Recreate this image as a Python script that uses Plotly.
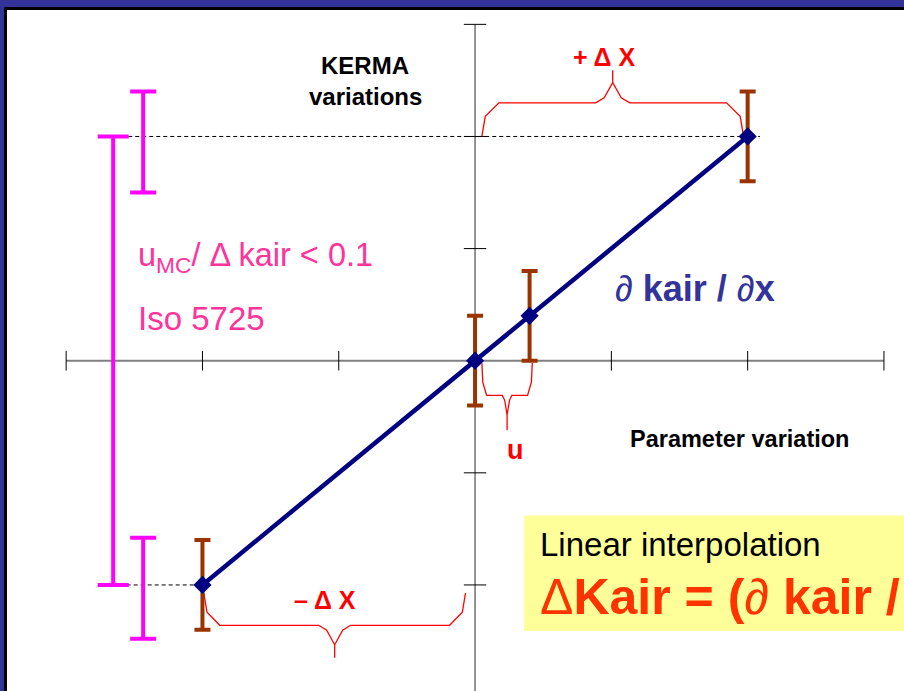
import plotly.graph_objects as go

# parameter variation (x) vs kerma variation (y), in tick units
param_x = [-2, 0, 0.4, 2]
kerma_y = [-2, 0, 0.4, 2]
kerma_err = [0.4, 0.4, 0.4, 0.4]

# ISO 5725 reference bars (magenta)
iso_long_x = [-2.655]
iso_long_y = [0]
iso_long_err = [2]
iso_short_x = [-2.435, -2.435]
iso_short_y = [2, -2]
iso_short_plus = [0.4, 0.42]
iso_short_minus = [0.5, 0.48]

x_ticks = [-3, -2, -1, 1, 2, 3]
y_ticks = [3, 2, 1, -1, -2]

NAVY = "#000080"
BROWN = "#993300"
MAGENTA = "#FF00FF"
PINK = "#FF3399"
RED = "#FF0000"
FONT = "Arial, Liberation Sans, sans-serif"


def brace(x0, x1, yb, depth, tip, c):
    # curly brace between x0 and x1, opening towards yb, tip at yb + tip
    xm = (x0 + x1) / 2
    xs = [x0, x0 + 0.2 * c, x0 + c, xm - c, xm - 0.5 * c, xm, xm,
          xm, xm + 0.5 * c, xm + c, x1 - c, x1 - 0.2 * c, x1]
    ys = [yb, yb + 0.6 * depth, yb + depth, yb + depth, yb + 1.15 * depth,
          yb + 1.6 * depth, yb + tip, yb + 1.6 * depth, yb + 1.15 * depth,
          yb + depth, yb + depth, yb + 0.6 * depth, yb]
    return go.Scatter(x=xs, y=ys, mode="lines", line=dict(color=RED, width=1.3),
                      hoverinfo="skip")


fig = go.Figure()

# axes through the origin
fig.add_trace(go.Scatter(x=[-3, 3], y=[0, 0], mode="lines",
                         line=dict(color="#808080", width=2), hoverinfo="skip"))
fig.add_trace(go.Scatter(x=[0, 0], y=[3, -3.2], mode="lines",
                         line=dict(color="#707070", width=1.5), hoverinfo="skip"))
fig.add_trace(go.Scatter(x=x_ticks, y=[0] * len(x_ticks), mode="markers",
                         marker=dict(symbol="line-ns", size=14,
                                     line=dict(color="black", width=1)),
                         hoverinfo="skip"))
fig.add_trace(go.Scatter(x=[0] * len(y_ticks), y=y_ticks, mode="markers",
                         marker=dict(symbol="line-ew", size=16,
                                     line=dict(color="black", width=1)),
                         hoverinfo="skip"))

# dashed guide lines
fig.add_trace(go.Scatter(x=[-2.75, 2.09], y=[2, 2], mode="lines",
                         line=dict(color="black", width=1, dash="4px,3px"),
                         hoverinfo="skip"))
fig.add_trace(go.Scatter(x=[-2.71, -2], y=[-2, -2], mode="lines",
                         line=dict(color="black", width=1, dash="4px,3px"),
                         hoverinfo="skip"))

# braces
fig.add_trace(brace(0.05, 1.97, 2.0, 0.30, 0.59, 0.125))
fig.add_trace(brace(-1.99, -0.07, -2.07, -0.29, -0.58, 0.117))
fig.add_trace(brace(0.05, 0.42, -0.02, -0.29, -0.60, 0.035))

# magenta ISO bars
fig.add_trace(go.Scatter(x=iso_long_x, y=iso_long_y, mode="markers",
                         marker=dict(size=1, opacity=0),
                         error_y=dict(type="data", array=iso_long_err,
                                      color=MAGENTA, thickness=4, width=15.5),
                         hoverinfo="skip"))
fig.add_trace(go.Scatter(x=iso_short_x, y=iso_short_y, mode="markers",
                         marker=dict(size=1, opacity=0),
                         error_y=dict(type="data", symmetric=False,
                                      array=iso_short_plus,
                                      arrayminus=iso_short_minus,
                                      color=MAGENTA, thickness=4, width=13),
                         hoverinfo="skip"))

# linear fit line
fig.add_trace(go.Scatter(x=[param_x[0], param_x[-1]],
                         y=[kerma_y[0], kerma_y[-1]], mode="lines",
                         line=dict(color=NAVY, width=4.5), hoverinfo="skip"))
# points with error bars
fig.add_trace(go.Scatter(x=param_x, y=kerma_y, mode="markers",
                         marker=dict(symbol="diamond", size=14, color=NAVY),
                         error_y=dict(type="data", array=kerma_err,
                                      color=BROWN, thickness=4, width=8)))

ann = [
    dict(x=-0.807, y=2.63, text="<b>KERMA</b>", font=dict(size=24, color="black")),
    dict(x=-0.807, y=2.36, text="<b>variations</b>", font=dict(size=24, color="black")),
    dict(x=0.946, y=2.71, text="<b>+ Δ X</b>", font=dict(size=25, color=RED)),
    dict(x=0.30, y=-0.80, text="<b>u</b>", font=dict(size=27, color=RED)),
    dict(x=1.94, y=-0.70, text="<b>Parameter variation</b>",
         font=dict(size=23.5, color="black")),
    dict(x=1.012, y=0.64, text="<i>∂</i><b> kair / </b><i>∂</i><b>x</b>",
         xanchor="left", font=dict(size=36, color="#333399")),
    dict(x=-2.487, y=0.92, text="u<sub>MC</sub>/ Δ kair &lt; 0.1", xanchor="left",
         font=dict(size=32.5, color=PINK)),
    dict(x=-2.487, y=0.38, text="Iso 5725", xanchor="left",
         font=dict(size=33, color=PINK)),
    dict(x=-1.10, y=-2.13, text="<b>– Δ X</b>", font=dict(size=25, color=RED)),
    dict(x=0.462, y=-1.64, text="Linear interpolation", xanchor="left",
         font=dict(size=33, color="black")),
    dict(x=0.462, y=-2.11, text="Δ<b>Kair = (</b><i>∂</i><b> kair /</b>",
         xanchor="left", font=dict(size=50, color="#FF3300")),
]
for a in ann:
    a.setdefault("xanchor", "center")
    a["font"]["family"] = FONT
    fig.add_annotation(xref="x", yref="y", yanchor="middle", showarrow=False, **a)

fig.add_shape(type="rect", xref="x", yref="y", x0=0.36, x1=3.3, y0=-2.41, y1=-1.38,
              fillcolor="#FFFF99", line=dict(width=0), layer="below")
# slide frame
fig.add_shape(type="line", xref="paper", yref="paper", x0=-0.0017, x1=-0.0017,
              y0=0, y1=1.003, line=dict(color="black", width=3))
fig.add_shape(type="line", xref="paper", yref="paper", x0=-0.003, x1=1.01,
              y0=1.0022, y1=1.0022, line=dict(color="black", width=3))

fig.update_layout(
    width=904, height=691,
    margin=dict(l=7, r=0, t=10, b=0),
    paper_bgcolor="#333399", plot_bgcolor="white",
    showlegend=False,
    xaxis=dict(visible=False, range=[-3.434, 3.147], fixedrange=True),
    yaxis=dict(visible=False, range=[-2.946, 3.128], fixedrange=True),
)

fig.write_html("out.html", config={"displayModeBar": False},
               post_script="document.body.style.margin='0';")
